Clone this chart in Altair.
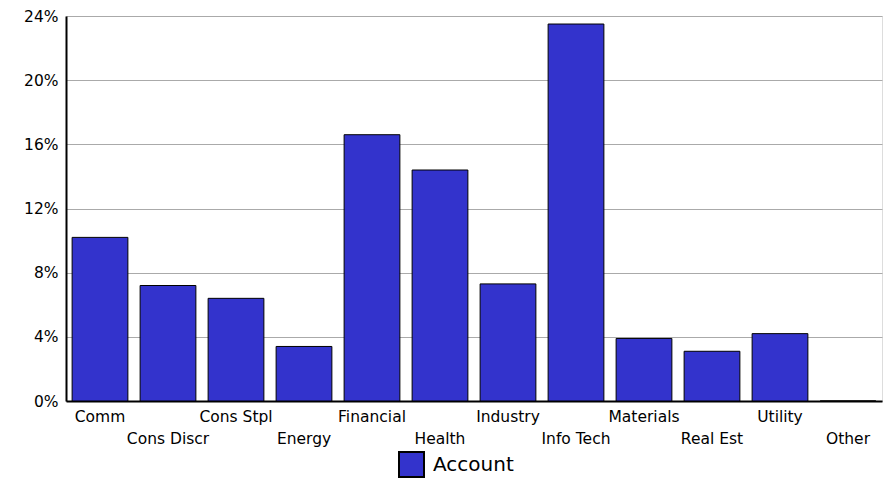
import altair as alt
import pandas as pd

categories = ["Comm", "Cons Discr", "Cons Stpl", "Energy", "Financial", "Health",
              "Industry", "Info Tech", "Materials", "Real Est", "Utility", "Other"]
values = [10.2, 7.2, 6.4, 3.4, 16.6, 14.4, 7.3, 23.5, 3.9, 3.1, 4.2, 0.0]
series = "Account"
y_ticks = [0, 0.04, 0.08, 0.12, 0.16, 0.20, 0.24]

df = pd.DataFrame({
    "sector": categories,
    "weight": [v / 100 for v in values],
    "series": series,
})

FONT = "DejaVu Sans"
n = len(categories)

bars = alt.Chart(df).mark_bar(stroke="black", strokeWidth=1, opacity=1).encode(
    x=alt.X("sector:N", sort=categories, title=None,
            scale=alt.Scale(paddingInner=0.18, paddingOuter=0.09),
            axis=alt.Axis(labelAngle=0, ticks=False, tickSize=0,
                          labelFont=FONT, labelFontSize=15.5, labelColor="black",
                          labelBaseline="top",
                          labelPadding={"condition": {"test": f"round(datum.index*{n-1}) % 2 == 1", "value": 30},
                                        "value": 8},
                          domainColor="black", domainWidth=2, grid=False,
                          labelOverlap=False, labelBound=False)),
    y=alt.Y("weight:Q", title=None,
            scale=alt.Scale(domain=[0, 0.24], nice=False),
            axis=alt.Axis(values=y_ticks, format=".0%", ticks=False, tickSize=0,
                          labelFont=FONT, labelFontSize=15.5, labelColor="black",
                          labelPadding=8, domainColor="black", domainWidth=2,
                          grid=True, gridColor="#aaaaaa", gridWidth=1)),
    color=alt.Color("series:N", title=None,
                    scale=alt.Scale(range=["#3333CC"]),
                    legend=alt.Legend(orient="none", legendX=332, legendY=435,
                                      symbolType="square", symbolSize=625,
                                      symbolStrokeColor="black", symbolStrokeWidth=2,
                                      symbolFillColor="#3333CC", symbolOpacity=1,
                                      labelFont=FONT, labelFontSize=20, labelColor="black",
                                      labelOffset=8)),
)

chart = bars.properties(
    width=816, height=385,
    autosize=alt.AutoSizeParams(type="none"),
    padding={"left": 58, "top": 8, "right": 2, "bottom": 79},
).configure_view(stroke="#666666", strokeWidth=1).configure(background="white")

chart.save("out.html", embed_options={"renderer": "svg", "actions": False})
